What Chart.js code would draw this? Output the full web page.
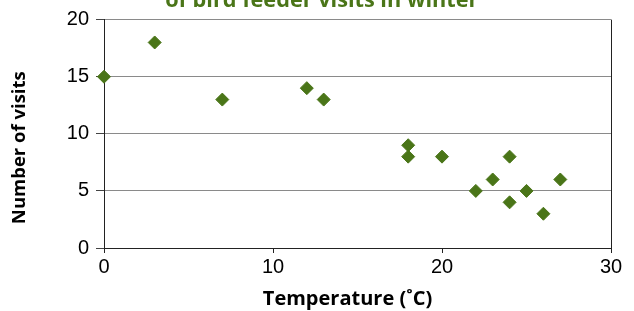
<!DOCTYPE html>
<html>
<head>
<meta charset="utf-8">
<script src="https://cdn.jsdelivr.net/npm/chart.js@4"></script>
<style>
    html, body { margin: 0; padding: 0; background: #fff; }
    #wrap { position: relative; width: 634px; height: 311px; overflow: hidden; }
    #box { position: absolute; left: 0; top: -20px; width: 634px; height: 331px; }
</style>
</head>
<body>
<div id="wrap"><div id="box"><canvas id="chart"></canvas></div></div>
<script>
// Дані графіка
const temperatures = [0, 3, 7, 12, 13, 18, 18, 20, 22, 23, 24, 24, 25, 26, 27];
const visits = [15, 18, 13, 14, 13, 9, 8, 8, 5, 6, 8, 4, 5, 3, 6];
const xTicks = [0, 10, 20, 30];
const yTicks = [0, 5, 10, 15, 20];

const titleText = 'of bird feeder visits in winter';
const xTitle = 'Temperature (˚C)';
const yTitle = 'Number of visits';

const green = '#4a7518';
const points = temperatures.map((t, i) => ({x: t, y: visits[i]}));

// en-пробіли зсувають підписи, як у оригіналі
const sp = n => '\u2002'.repeat(n);

new Chart(document.getElementById('chart'), {
    type: 'scatter',
    data: {
        datasets: [{
            data: points,
            pointStyle: 'rectRot',
            pointRadius: 6.5,
            pointHoverRadius: 6.5,
            backgroundColor: green,
            borderColor: green,
            borderWidth: 1,
            clip: false,
        }]
    },
    options: {
        responsive: true,
        maintainAspectRatio: false,
        animation: false,
        events: [],
        layout: {padding: {left: 0, right: 23, top: 0, bottom: 0}},
        plugins: {
            legend: {display: false},
            tooltip: {enabled: false},
            title: {
                display: true,
                text: sp(3) + titleText,
                color: green,
                font: {family: 'Open Sans', size: 21.7, weight: 'bold', lineHeight: 1.2},
                padding: {top: 8.3, bottom: 5.3},
            },
        },
        scales: {
            x: {
                type: 'linear',
                min: xTicks[0],
                max: xTicks[xTicks.length - 1],
                afterBuildTicks: s => { s.ticks = xTicks.map(v => ({value: v})); },
                afterFit: s => { s.height = 63; },
                ticks: {color: '#000', font: {family: 'Liberation Sans', size: 20}, padding: 2, maxRotation: 0},
                grid: {
                    color: c => c.tick && c.tick.value === 30 ? '#222' : 'rgba(0,0,0,0)',
                    tickColor: '#222',
                    tickLength: 5,
                },
                border: {color: '#222', width: 1},
                title: {
                    display: true,
                    text: xTitle + sp(2),
                    color: '#000',
                    font: {family: 'Open Sans', size: 20, weight: 'bold', lineHeight: 1.2},
                    padding: {top: 0, bottom: 0},
                },
            },
            y: {
                type: 'linear',
                min: yTicks[0],
                max: yTicks[yTicks.length - 1],
                afterBuildTicks: s => { s.ticks = yTicks.map(v => ({value: v})); },
                afterFit: s => { s.width = 104; },
                ticks: {color: '#000', font: {family: 'Liberation Sans', size: 20}, padding: 7},
                grid: {color: '#8a8a8a', tickColor: '#444', tickLength: 8},
                border: {color: '#222', width: 1},
                title: {
                    display: true,
                    text: yTitle + sp(3),
                    color: '#000',
                    font: {family: 'Open Sans', size: 18.5, weight: 'bold', lineHeight: 1.2},
                    padding: {top: 9, bottom: 0},
                },
            }
        }
    }
});
</script>
</body>
</html>
